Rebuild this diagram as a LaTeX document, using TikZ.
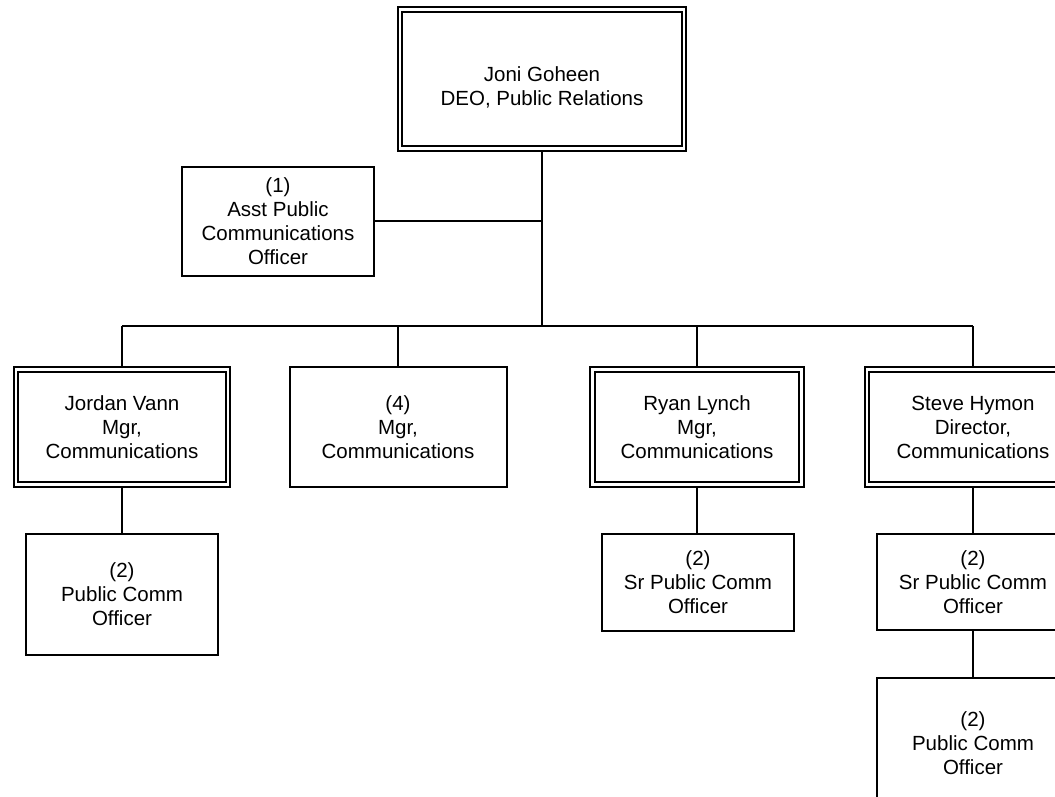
\documentclass[tikz,border=0pt]{standalone}
\usepackage{fontspec}
\setmainfont{Liberation Sans}
\begin{document}
\begin{tikzpicture}[x=1pt,y=-1pt,
  box/.style={draw, line width=2pt, align=center, inner sep=0pt, outer sep=1pt,
    font=\fontsize{20.5}{24}\selectfont},
  dbox/.style={draw, double, line width=2pt, double distance=2.6pt, align=center,
    inner sep=0pt, outer sep=3.3pt, font=\fontsize{20.5}{24}\selectfont},
  conn/.style={line width=2pt}]
\path[use as bounding box, fill=white] (0,0) rectangle (1055,796);
\clip (0,0) rectangle (1055,796);

\node[dbox, minimum width=284pt, minimum height=139pt] (top) at (542,79)
  {\rule{0pt}{15pt}\\[-8pt]Joni Goheen\\DEO, Public Relations};
\node[box, minimum width=192pt, minimum height=109pt] (asst) at (278,221)
  {(1)\\Asst Public\\Communications\\Officer};

\node[dbox, minimum width=212pt, minimum height=115pt] (jordan) at (122,427)
  {Jordan Vann\\Mgr,\\Communications};
\node[box, minimum width=217pt, minimum height=120pt] (four) at (398,427)
  {(4)\\Mgr,\\Communications};
\node[dbox, minimum width=209pt, minimum height=115pt] (ryan) at (697,427)
  {Ryan Lynch\\Mgr,\\Communications};
\node[dbox, minimum width=212pt, minimum height=115pt] (steve) at (973,427)
  {Steve Hymon\\Director,\\Communications};

\node[box, minimum width=192pt, minimum height=121pt] (pc1) at (122,594.5)
  {(2)\\Public Comm\\Officer};
\node[box, minimum width=192pt, minimum height=97pt] (sr1) at (698,582.5)
  {(2)\\Sr Public Comm\\Officer};
\node[box, minimum width=192pt, minimum height=96pt] (sr2) at (973,582)
  {(2)\\Sr Public Comm\\Officer};
\node[box, minimum width=192pt, minimum height=130pt] (pc2) at (973,743)
  {(2)\\Public Comm\\Officer};

\coordinate (bus) at (542,326);

\draw[conn] (top.south) -- (bus);
\draw[conn] (asst.east) -- (asst.east -| top.south);
\draw[conn] (jordan.north |- bus) -- (steve.north |- bus);
\draw[conn] (jordan.north) -- (jordan.north |- bus);
\draw[conn] (four.north) -- (four.north |- bus);
\draw[conn] (ryan.north) -- (ryan.north |- bus);
\draw[conn] (steve.north) -- (steve.north |- bus);
\draw[conn] (jordan.south) -- (pc1.north);
\draw[conn] (ryan.south) -- (ryan.south |- sr1.north);
\draw[conn] (steve.south) -- (sr2.north);
\draw[conn] (sr2.south) -- (pc2.north);
\end{tikzpicture}
\end{document}
